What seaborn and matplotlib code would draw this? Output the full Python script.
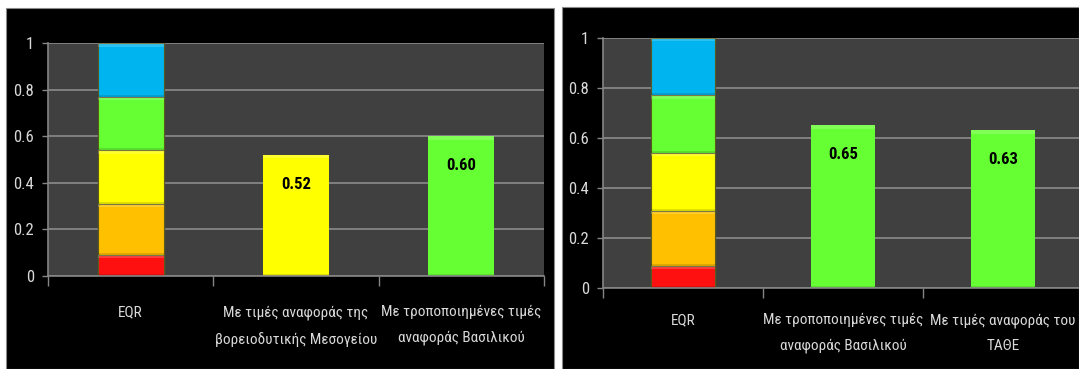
import matplotlib
matplotlib.use("Agg")
import matplotlib.pyplot as plt
from matplotlib.patches import Rectangle
from matplotlib import font_manager
import seaborn as sns
import pandas as pd

# EQR class boundaries (upper limit of each class) and class colours
eqr_bounds = [0.09, 0.31, 0.54, 0.77, 1.0]
eqr_colors = ["#ff1010", "#ffc000", "#ffff00", "#66ff33", "#00b4f0"]

# Left chart
cats_a = ["EQR",
          "Με τιμές αναφοράς της\nβορειοδυτικής Μεσογείου",
          "Με τροποποιημένες τιμές\nαναφοράς Βασιλικού"]
vals_a = [0.52, 0.60]
cols_a = ["#ffff00", "#66ff33"]

# Right chart
cats_b = ["EQR",
          "Με τροποποιημένες τιμές\nαναφοράς Βασιλικού",
          "Με τιμές αναφοράς του\nΤΑΘΕ"]
vals_b = [0.65, 0.63]
cols_b = ["#66ff33", "#66ff33"]

y_ticks = [0, 0.2, 0.4, 0.6, 0.8, 1]
y_labels = ["0", "0.2", "0.4", "0.6", "0.8", "1"]

sns.set_style("dark")
installed = {f.name for f in font_manager.fontManager.ttflist}
# narrow face with Greek glyphs, and the category-label size that suits it
font_sizes = {"Roboto Condensed": 11, "Open Sans Condensed": 10.5,
              "Fira Sans Condensed": 10.5, "Carlito": 10, "Roboto": 9}
chosen = next((n for n in font_sizes if n in installed), "DejaVu Sans")
CAT_SIZE = font_sizes.get(chosen, 9)
plt.rcParams["font.family"] = [chosen, "DejaVu Sans"]

W, H = 1079, 369
fig = plt.figure(figsize=(W / 100, H / 100), dpi=100, facecolor="white")

# black chart-area panels
for (x0, y0, x1) in [(6, 8, 554), (562, 7, 1079)]:
    fig.patches.append(Rectangle((x0 / W, 0), (x1 - x0) / W, (H - y0) / H,
                                 transform=fig.transFigure, facecolor="black",
                                 edgecolor="#8a8a8a", linewidth=0.8, zorder=-5))

TXT = "#d9d9d9"
GRID = "#858585"


def bevel(ax, patches):
    # light top rim and darker lower rim on each bar segment
    for p in patches:
        x, y = p.get_x(), p.get_y()
        w, h = p.get_width(), p.get_height()
        if h <= 0:
            continue
        rim = 0.014
        ax.add_patch(Rectangle((x, y + h - rim), w, rim, facecolor="white",
                               alpha=0.18, linewidth=0, zorder=2.1))
        ax.add_patch(Rectangle((x, y), w, rim * 0.6, facecolor="black",
                               alpha=0.12, linewidth=0, zorder=2.1))


def draw(rect, cats, vals, cols, label_pad):
    ax = fig.add_axes(rect)
    ax.set_facecolor("#404040")
    # stacked EQR scale: cumulative tops, drawn from the tallest down
    for top, c in sorted(zip(eqr_bounds, eqr_colors), reverse=True):
        sns.barplot(x=[cats[0]], y=[top], order=cats, color=c, width=0.4,
                    saturation=1, edgecolor="#5a5a20", linewidth=0.8, ax=ax, zorder=2)
    eqr_patches = ax.patches[:]
    df = pd.DataFrame({"cat": cats[1:], "val": vals})
    sns.barplot(data=df, x="cat", y="val", hue="cat", order=cats,
                palette=dict(zip(cats[1:], cols)), width=0.4, saturation=1,
                legend=False, edgecolor="none", ax=ax, zorder=2)
    value_patches = [p for p in ax.patches if p not in eqr_patches]
    # segment geometry for bevel shading
    segs = []
    prev = 0.0
    p0 = eqr_patches[0]
    for top in eqr_bounds:
        segs.append(Rectangle((p0.get_x(), prev), p0.get_width(), top - prev))
        prev = top
    bevel(ax, segs + value_patches)

    for p, v in zip(value_patches, vals):
        ax.annotate(f"{v:.2f}", (p.get_x() + p.get_width() / 2, v),
                    xytext=(0, -21), textcoords="offset points",
                    ha="center", va="center", fontsize=12, fontweight="bold",
                    color="black", zorder=5)

    ax.set_ylim(0, 1)
    ax.set_xlim(-0.5, 2.5)
    ax.set_yticks(y_ticks, y_labels)
    ax.yaxis.grid(True, color=GRID, linewidth=1.3, zorder=1)
    ax.xaxis.grid(False)
    ax.set_axisbelow(True)
    ax.set_xticks(range(3))
    ax.set_xticklabels(cats, linespacing=2.0)
    ax.set_xticks([-0.5, 0.5, 1.5, 2.5], minor=True)
    ax.tick_params(axis="x", which="major", length=0, pad=label_pad, colors=TXT,
                   labelsize=CAT_SIZE)
    ax.tick_params(axis="x", which="minor", length=7, width=1, color=GRID, direction="out", bottom=True)
    ax.tick_params(axis="y", length=4, width=1, color=GRID, direction="out", left=True,
                   colors=TXT, labelsize=12, pad=6)
    for s in ["top", "right"]:
        ax.spines[s].set_visible(False)
    for s in ["left", "bottom"]:
        ax.spines[s].set_visible(True)
        ax.spines[s].set_color(GRID)
        ax.spines[s].set_linewidth(1.2)
    ax.set_xlabel("")
    ax.set_ylabel("")
    return ax


draw([48 / W, (H - 276) / H, (544 - 48) / W, (276 - 43.3) / H], cats_a, vals_a, cols_a, 21)
draw([603 / W, (H - 288.3) / H, 480 / W, (288.3 - 37.7) / H], cats_b, vals_b, cols_b, 18)

fig.savefig("out.png", dpi=100, facecolor="white")
